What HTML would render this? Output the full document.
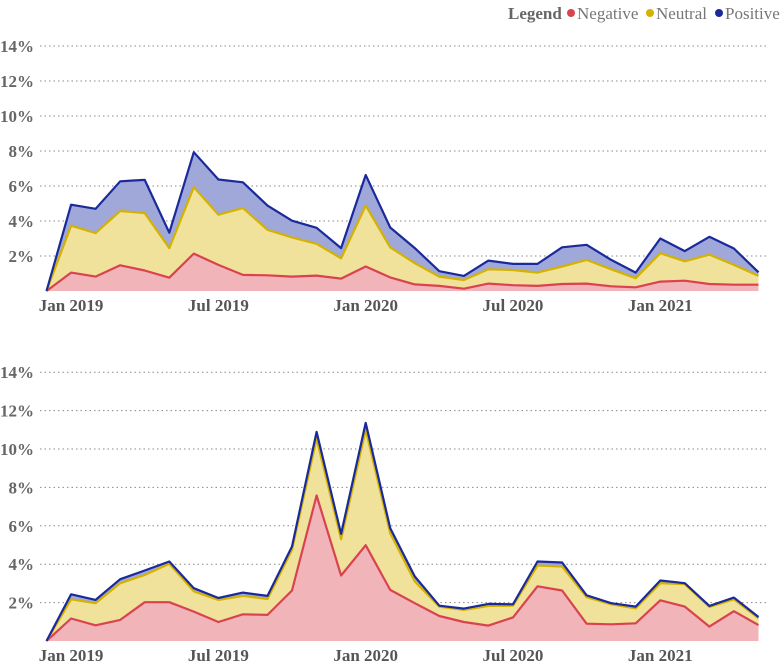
<!DOCTYPE html>
<html><head><meta charset="utf-8">
<style>
html,body{margin:0;padding:0;background:#fff;width:781px;height:666px;overflow:hidden}
svg{display:block;font-family:"Liberation Serif",serif;font-weight:bold}
</style></head>
<body>
<svg id="chart" width="781" height="666" viewBox="0 0 781 666" xmlns="http://www.w3.org/2000/svg">
  <g font-size="17">
    <text x="508" y="19" fill="#666">Legend</text>
    <circle cx="571" cy="13" r="4" fill="#d9434f"/>
    <text x="577" y="19" fill="#777" font-weight="normal">Negative</text>
    <circle cx="650" cy="13" r="4" fill="#d4b200"/>
    <text x="656" y="19" fill="#777" font-weight="normal">Neutral</text>
    <circle cx="719" cy="13" r="4" fill="#1a2a9a"/>
    <text x="725" y="19" fill="#777" font-weight="normal">Positive</text>
  </g>
</svg>
<script>
const months = ["Dec 2018","Jan 2019","Feb 2019","Mar 2019","Apr 2019","May 2019","Jun 2019","Jul 2019","Aug 2019","Sep 2019","Oct 2019","Nov 2019","Dec 2019","Jan 2020","Feb 2020","Mar 2020","Apr 2020","May 2020","Jun 2020","Jul 2020","Aug 2020","Sep 2020","Oct 2020","Nov 2020","Dec 2020","Jan 2021","Feb 2021","Mar 2021","Apr 2021","May 2021"];
const xTickLabels = ["Jan 2019","Jul 2019","Jan 2020","Jul 2020","Jan 2021"];
const yTicks = [2,4,6,8,10,12,14];
const topNegative = [0,1.05,0.82,1.47,1.17,0.76,2.14,1.49,0.92,0.90,0.82,0.88,0.71,1.40,0.78,0.38,0.29,0.13,0.42,0.33,0.29,0.40,0.42,0.27,0.21,0.54,0.59,0.40,0.36,0.36];
const topNeutral = [0,2.68,2.49,3.10,3.28,1.69,3.79,2.87,3.82,2.60,2.24,1.82,1.16,3.48,1.72,1.21,0.53,0.50,0.82,0.87,0.76,1.00,1.36,0.97,0.52,1.62,1.11,1.68,1.13,0.50];
const topPositive = [0,1.20,1.39,1.70,1.90,0.88,2.00,2.01,1.47,1.38,0.96,0.91,0.58,1.75,1.13,0.86,0.31,0.23,0.50,0.35,0.50,1.10,0.86,0.54,0.32,0.84,0.58,1.02,0.94,0.21];
const botNegative = [0,1.17,0.82,1.10,2.02,2.02,1.53,0.99,1.39,1.36,2.63,7.58,3.41,4.99,2.66,1.97,1.30,0.99,0.80,1.23,2.85,2.63,0.90,0.87,0.92,2.12,1.79,0.75,1.55,0.83];
const botNeutral = [0,1.00,1.15,1.91,1.42,2.00,1.06,1.15,0.96,0.83,2.12,2.96,1.89,6.01,2.96,1.13,0.49,0.63,1.03,0.61,1.08,1.25,1.38,1.04,0.78,0.89,1.17,1.02,0.62,0.35];
const botPositive = [0,0.26,0.17,0.21,0.23,0.12,0.16,0.10,0.17,0.16,0.17,0.35,0.28,0.36,0.26,0.26,0.05,0.07,0.10,0.07,0.21,0.21,0.10,0.06,0.09,0.14,0.05,0.06,0.09,0.07];

const NS = "http://www.w3.org/2000/svg";
const svg = document.getElementById("chart");
const X0 = 46.5, X1 = 758.5;
function xScale(i){ return X0 + i*(X1-X0)/(months.length-1); }
function mk(tag, attrs, parent){ const e=document.createElementNS(NS,tag); for(const k in attrs) e.setAttribute(k,attrs[k]); parent.appendChild(e); return e; }

function panel(name, base, pxPerPct, neg, neu, pos){
  const y = v => base - v*pxPerPct;
  const g = mk("g",{},svg);
  
  
  yTicks.forEach(t=>{
    const gl = mk("line",{x1:40,x2:767,y1:y(t),y2:y(t),stroke:"#888","stroke-width":1,"stroke-dasharray":"1.5,3"},g);
    
    
    const tl = mk("text",{x:34,y:y(t)+6,"text-anchor":"end","font-size":17,fill:"#666"},g);
    tl.textContent = t+"%";
    
    
  });
  const c1 = neg.slice(), c2 = neg.map((v,i)=>v+neu[i]), c3 = c2.map((v,i)=>v+pos[i]);
  const layers = [
    {lo:c2, hi:c3, fill:"#a0a7d9", stroke:"#1a2a9a", n:"positive"},
    {lo:c1, hi:c2, fill:"#f0e19b", stroke:"#d4b200", n:"neutral"},
    {lo:null, hi:c1, fill:"#f0b4b9", stroke:"#d9434f", n:"negative"}
  ];
  // draw areas
  [layers[2],layers[1],layers[0]].forEach(L=>{
    let d = L.hi.map((v,i)=>(i?"L":"M")+xScale(i).toFixed(1)+","+y(v).toFixed(1)).join("");
    for(let i=months.length-1;i>=0;i--) d += "L"+xScale(i).toFixed(1)+","+y(L.lo?L.lo[i]:0).toFixed(1);
    const a = mk("path",{d:d+"Z",fill:L.fill,stroke:"none"},g);
    
    
  });
  // lines: negative, neutral, positive on top
  [layers[2],layers[1],layers[0]].forEach(L=>{
    const d = L.hi.map((v,i)=>(i?"L":"M")+xScale(i).toFixed(1)+","+y(v).toFixed(1)).join("");
    const l = mk("path",{d:d,fill:"none",stroke:L.stroke,"stroke-width":2.2,"stroke-linejoin":"round"},g);
    
    
  });
  xTickLabels.forEach(lbl=>{
    const i = months.indexOf(lbl);
    const t = mk("text",{x:xScale(i),y:base+20,"text-anchor":"middle","font-size":17,fill:"#555"},g);
    t.textContent = lbl;
    
    
  });
}
panel("top-chart", 291, 17.5, topNegative, topNeutral, topPositive);
panel("bottom-chart", 641, 19.2, botNegative, botNeutral, botPositive);
</script>
</body></html>
